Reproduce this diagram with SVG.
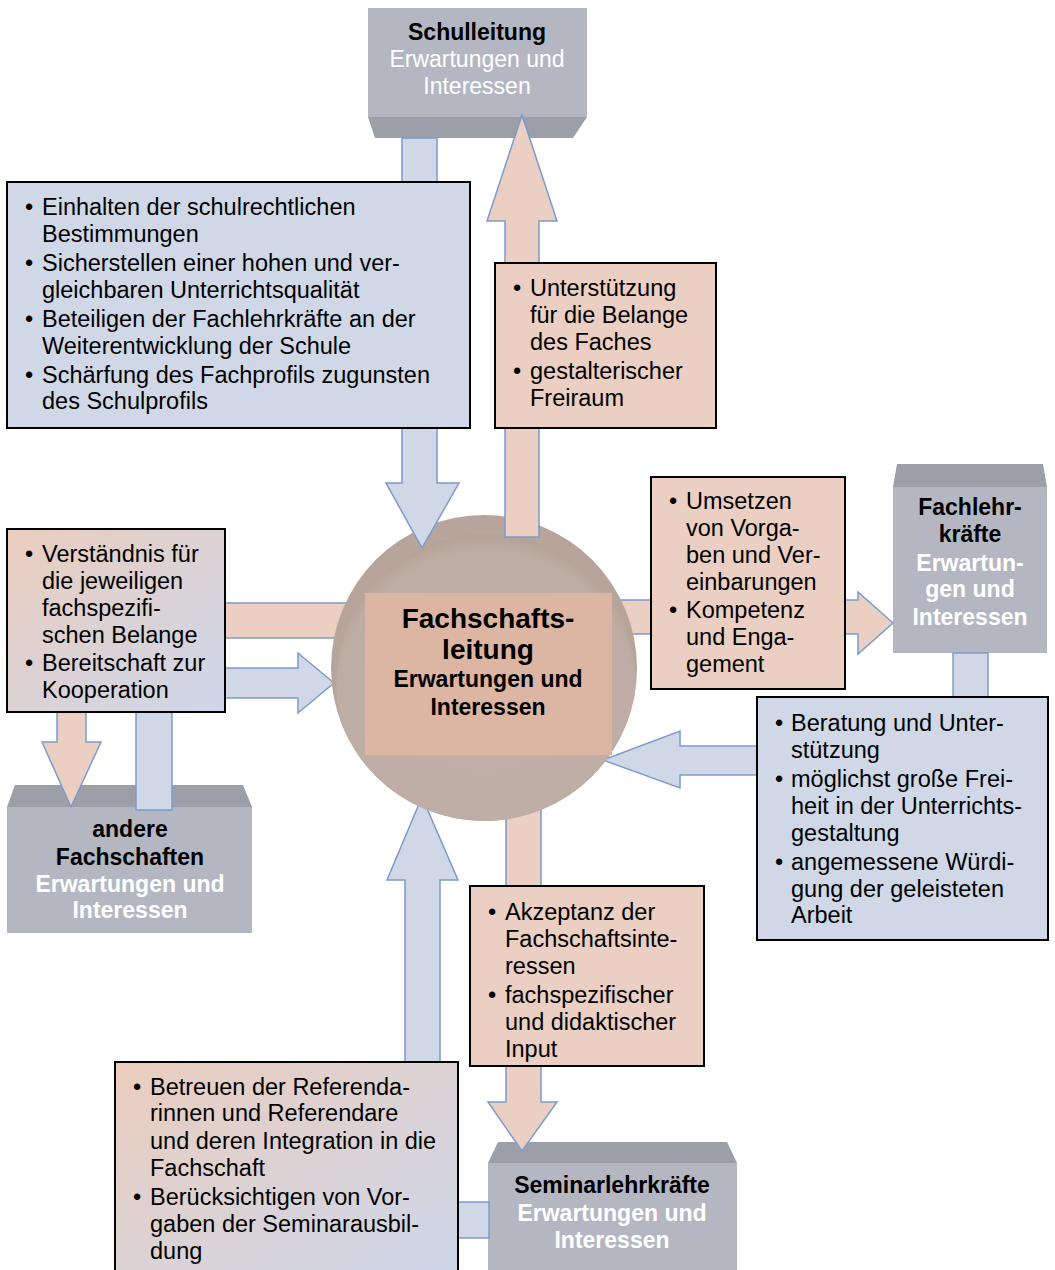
<svg xmlns="http://www.w3.org/2000/svg" width="1055" height="1270" viewBox="0 0 1055 1270">
<defs>
<style>
.t{font-family:"Liberation Sans",Arial,sans-serif;font-size:23.5px;fill:#000}
.tb{font-family:"Liberation Sans",Arial,sans-serif;font-size:23px;font-weight:bold;text-anchor:middle}
.tw{font-family:"Liberation Sans",Arial,sans-serif;font-size:23px;fill:#fff;text-anchor:middle}
.front{fill:#B4B7C1}
.bevel{fill:#9C9FA7}
.ab{fill:#D0D8E8;stroke:#7C9BCB;stroke-width:1.5}
.ap{fill:#EACFC2;stroke:#7C9BCB;stroke-width:1.5}
.bx{stroke:#000;stroke-width:2}
</style>
<linearGradient id="mix" x1="0" y1="0" x2="1" y2="1">
<stop offset="0" stop-color="#EBCDBE"/>
<stop offset="1" stop-color="#CDD7EA"/>
</linearGradient>
<radialGradient id="disc" cx="0.5" cy="0.55" r="0.55">
<stop offset="0" stop-color="#C2B2AA"/>
<stop offset="0.9" stop-color="#BEADA4"/>
<stop offset="1" stop-color="#B3A198"/>
</radialGradient>
<clipPath id="cc"><circle cx="484" cy="668" r="153"/></clipPath>
</defs>

<g id="schulleitung">
<rect class="front" x="368" y="8" width="219" height="109"/>
<polygon class="bevel" points="368,117 587,117 573,138 375,138"/>
<text class="tb" x="477" y="40">Schulleitung</text>
<text class="tw" x="477" y="67">Erwartungen und</text>
<text class="tw" x="477" y="94">Interessen</text>
</g>

<g id="fachlehrkraefte">
<polygon class="bevel" points="897,464 1043,464 1047,487 893,487"/>
<rect class="front" x="893" y="487" width="154" height="166"/>
<text class="tb" x="970" y="515">Fachlehr-</text>
<text class="tb" x="970" y="542">kräfte</text>
<text class="tb" x="970" y="571" fill="#fff">Erwartun-</text>
<text class="tb" x="970" y="597" fill="#fff">gen und</text>
<text class="tb" x="970" y="625" fill="#fff">Interessen</text>
</g>

<g id="andere-fachschaften">
<polygon class="bevel" points="15,785 243,785 252,807 7,807"/>
<rect class="front" x="7" y="807" width="245" height="126"/>
<text class="tb" x="130" y="837">andere</text>
<text class="tb" x="130" y="865">Fachschaften</text>
<text class="tb" x="130" y="892" fill="#fff">Erwartungen und</text>
<text class="tb" x="130" y="918" fill="#fff">Interessen</text>
</g>

<g id="seminarlehrkraefte">
<polygon class="bevel" points="498,1142 727,1142 737,1163 488,1163"/>
<rect class="front" x="488" y="1163" width="249" height="112"/>
<text class="tb" x="612" y="1193">Seminarlehrkräfte</text>
<text class="tb" x="612" y="1221" fill="#fff">Erwartungen und</text>
<text class="tb" x="612" y="1248" fill="#fff">Interessen</text>
</g>

<g id="connectors-under">
<polygon class="ap" points="350,603 57,603 57,742 42,742 71,807 101,742 86,742 86,638 350,638"/>
<polygon class="ab" points="136,810 136,668 298,668 298,653 334,683 298,713 298,698 172,698 172,810"/>
<polygon class="ap" points="620,600 858,600 858,592 893,623 858,654 858,634 620,634"/>
<polygon class="ab" points="953,653 988,653 988,775 680,775 680,788 603,760 680,731 680,746 953,746"/>
<polygon class="ab" points="489,1202 440,1202 440,880 458,880 422,797 387,880 405,880 405,1238 489,1238"/>
<polygon class="ap" points="506,790 506,1102 488,1102 522,1151 557,1102 541,1102 541,790"/>
</g>

<g id="fachschaftsleitung">
<circle cx="484" cy="668" r="153" fill="#B7A59C"/>
<circle cx="486" cy="684" r="150" fill="url(#disc)" clip-path="url(#cc)"/>
<rect x="365" y="593" width="247" height="162" fill="#DDB5A3"/>
<text class="tb" x="488" y="628" style="font-size:28px">Fachschafts-</text>
<text class="tb" x="488" y="659" style="font-size:28px">leitung</text>
<text class="tb" x="488" y="687">Erwartungen und</text>
<text class="tb" x="488" y="715">Interessen</text>
</g>

<g id="connectors-over">
<polygon class="ab" points="402,138 437,138 437,483 459,483 422,548 386,483 402,483"/>
<polygon class="ap" points="505,537 505,221 487,221 522,115 557,221 539,221 539,537"/>
</g>

<g id="box-schulleitung">
<rect class="bx" x="7" y="182" width="463" height="246" fill="#D0D8E8"/>
<text class="t"><tspan x="25" y="215">•</tspan><tspan x="42" y="215">Einhalten der schulrechtlichen</tspan><tspan x="42" y="242">Bestimmungen</tspan><tspan x="25" y="271">•</tspan><tspan x="42" y="271">Sicherstellen einer hohen und ver-</tspan><tspan x="42" y="298">gleichbaren Unterrichtsqualität</tspan><tspan x="25" y="327">•</tspan><tspan x="42" y="327">Beteiligen der Fachlehrkräfte an der</tspan><tspan x="42" y="354">Weiterentwicklung der Schule</tspan><tspan x="25" y="383">•</tspan><tspan x="42" y="383">Schärfung des Fachprofils zugunsten</tspan><tspan x="42" y="409">des Schulprofils</tspan></text>
</g>

<g id="box-fachschaft-schulleitung">
<rect class="bx" x="495" y="263" width="221" height="165" fill="#EACFC2"/>
<text class="t"><tspan x="513" y="296">•</tspan><tspan x="530" y="296">Unterstützung</tspan><tspan x="530" y="323">für die Belange</tspan><tspan x="530" y="350">des Faches</tspan><tspan x="513" y="379">•</tspan><tspan x="530" y="379">gestalterischer</tspan><tspan x="530" y="406">Freiraum</tspan></text>
</g>

<g id="box-andere">
<rect class="bx" x="7" y="529" width="218" height="183" fill="url(#mix)"/>
<text class="t"><tspan x="25" y="562">•</tspan><tspan x="42" y="562">Verständnis für</tspan><tspan x="42" y="589">die jeweiligen</tspan><tspan x="42" y="616">fachspezifi-</tspan><tspan x="42" y="643">schen Belange</tspan><tspan x="25" y="671">•</tspan><tspan x="42" y="671">Bereitschaft zur</tspan><tspan x="42" y="698">Kooperation</tspan></text>
</g>

<g id="box-fachschaft-fachlehr">
<rect class="bx" x="651" y="477" width="194" height="212" fill="#EACFC2"/>
<text class="t"><tspan x="669" y="509">•</tspan><tspan x="686" y="509">Umsetzen</tspan><tspan x="686" y="536">von Vorga-</tspan><tspan x="686" y="563">ben und Ver-</tspan><tspan x="686" y="590">einbarungen</tspan><tspan x="669" y="618">•</tspan><tspan x="686" y="618">Kompetenz</tspan><tspan x="686" y="645">und Enga-</tspan><tspan x="686" y="672">gement</tspan></text>
</g>

<g id="box-fachlehr">
<rect class="bx" x="757" y="697" width="291" height="243" fill="#D0D8E8"/>
<text class="t"><tspan x="775" y="731">•</tspan><tspan x="791" y="731">Beratung und Unter-</tspan><tspan x="791" y="758">stützung</tspan><tspan x="775" y="787">•</tspan><tspan x="791" y="787">möglichst große Frei-</tspan><tspan x="791" y="814">heit in der Unterrichts-</tspan><tspan x="791" y="841">gestaltung</tspan><tspan x="775" y="870">•</tspan><tspan x="791" y="870">angemessene Würdi-</tspan><tspan x="791" y="897">gung der geleisteten</tspan><tspan x="791" y="923">Arbeit</tspan></text>
</g>

<g id="box-fachschaft-seminar">
<rect class="bx" x="470" y="886" width="234" height="180" fill="#EACFC2"/>
<text class="t"><tspan x="488" y="920">•</tspan><tspan x="505" y="920">Akzeptanz der</tspan><tspan x="505" y="947">Fachschaftsinte-</tspan><tspan x="505" y="974">ressen</tspan><tspan x="488" y="1003">•</tspan><tspan x="505" y="1003">fachspezifischer</tspan><tspan x="505" y="1030">und didaktischer</tspan><tspan x="505" y="1057">Input</tspan></text>
</g>

<g id="box-seminar">
<rect class="bx" x="115" y="1062" width="343" height="215" fill="url(#mix)"/>
<text class="t"><tspan x="133" y="1095">•</tspan><tspan x="150" y="1095">Betreuen der Referenda-</tspan><tspan x="150" y="1121">rinnen und Referendare</tspan><tspan x="150" y="1149">und deren Integration in die</tspan><tspan x="150" y="1176">Fachschaft</tspan><tspan x="133" y="1205">•</tspan><tspan x="150" y="1205">Berücksichtigen von Vor-</tspan><tspan x="150" y="1232">gaben der Seminarausbil-</tspan><tspan x="150" y="1259">dung</tspan></text>
</g>
</svg>
